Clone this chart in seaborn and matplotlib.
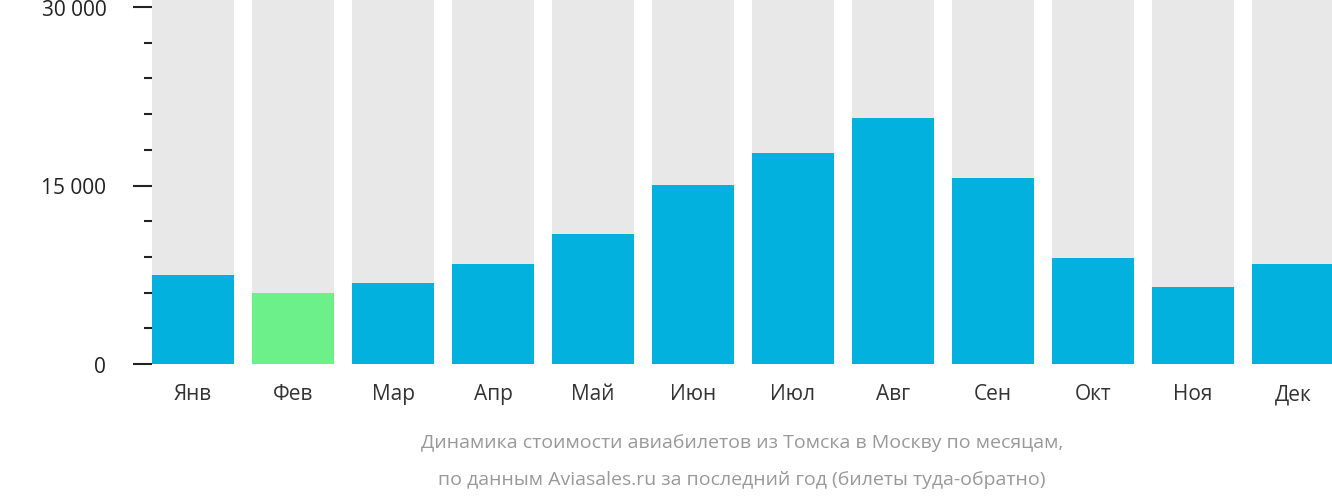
import matplotlib
matplotlib.use("Agg")
import matplotlib.pyplot as plt
import seaborn as sns
import pandas as pd
import numpy as np

months = ["Янв", "Фев", "Мар", "Апр", "Май", "Июн", "Июл", "Авг", "Сен", "Окт", "Ноя", "Дек"]
prices = [7450, 6000, 6780, 8390, 10930, 15080, 17700, 20700, 15600, 8900, 6500, 8390]
highlight = "Фев"
major_ticks = [0, 15000, 30000]
major_labels = ["0 ₽", "15 000 ₽", "30 000 ₽"]
minor_ticks = [3000, 6000, 9000, 12000, 18000, 21000, 24000, 27000]
caption = ["Динамика стоимости авиабилетов из Томска в Москву по месяцам,",
           "по данным Aviasales.ru за последний год (билеты туда-обратно)"]

plt.rcParams["font.family"] = "Open Sans"
df = pd.DataFrame({"month": months, "price": prices})
df["bg"] = 40000
palette = ["#6BF08A" if m == highlight else "#02B1DD" for m in months]

fig = plt.figure(figsize=(13.32, 5.02), dpi=100)
ax = fig.add_axes([152/1332, 129/502, 1 - 152/1332, 373/502])
sns.barplot(data=df, x="month", y="bg", color="#E8E8E8", width=0.82, ax=ax, saturation=1)
sns.barplot(data=df, x="month", y="price", hue="month", palette=palette, legend=False,
            width=0.82, ax=ax, saturation=1)
ax.set_xlim(-0.41, 11.39)
ax.set_ylim(-672, 30672)
for s in ax.spines.values():
    s.set_visible(False)
ax.set_xlabel("")
ax.set_ylabel("")
ax.set_yticks(major_ticks)
ax.set_yticklabels(major_labels)
ax.set_yticks(minor_ticks, minor=True)
ax.tick_params(axis="y", which="major", length=14, width=1.5, color="#222222",
               labelsize=15, labelcolor="#222222", pad=6)
ax.tick_params(axis="y", which="minor", length=6, width=1.5, color="#222222")
ax.tick_params(axis="x", length=0, labelsize=15, labelcolor="#333333", pad=8)
fig.text(0.5 + 152/1332/2, 1 - 443/502, caption[0], ha="center", va="center",
         fontsize=14, color="#999999")
fig.text(0.5 + 152/1332/2, 1 - 480/502, caption[1], ha="center", va="center",
         fontsize=14, color="#999999")
fig.savefig("out.png", dpi=100)
